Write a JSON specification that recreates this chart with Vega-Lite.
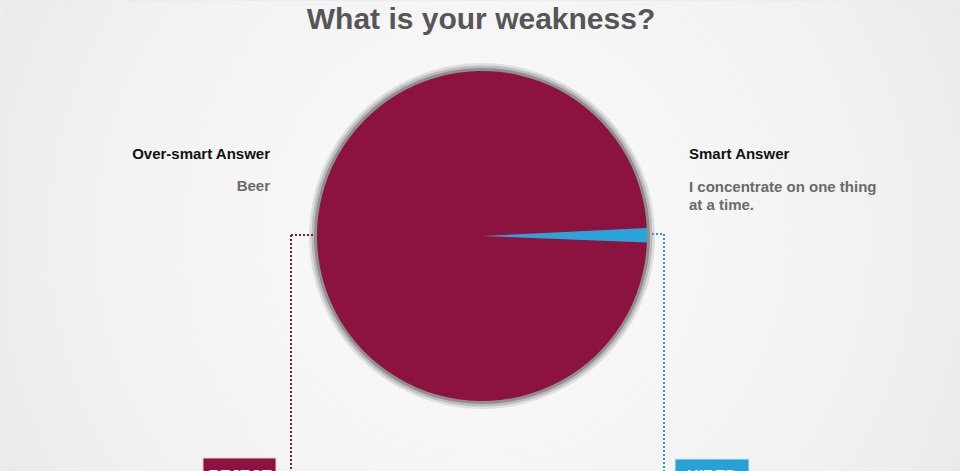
{
  "$schema": "https://vega.github.io/schema/vega-lite/v6.json",
  "width": 960,
  "height": 471,
  "autosize": {"type": "fit", "contains": "padding"},
  "padding": {"left": 4, "top": 1, "right": 0, "bottom": 0},
  "background": "#ececec",
  "config": {"view": {"stroke": null}, "font": "Liberation Sans"},
  "datasets": {
    "slices": [
      {"answer": "Smart Answer", "share": 1.4, "order": 1},
      {"answer": "Over-smart Answer", "share": 98.6, "order": 2}
    ],
    "answers": [
      {"answer": "Over-smart Answer", "reply": ["Beer"], "verdict": "REJECT"},
      {"answer": "Smart Answer", "reply": ["I concentrate on one thing", "at a time."], "verdict": "HIRED"}
    ],
    "one": [{"title": "What is your weakness?"}]
  },
  "layer": [
    {
      "data": {"name": "one"},
      "mark": {
        "type": "rect", "clip": true,
        "fill": {"gradient": "radial", "x1": 0.5, "y1": 0.5, "x2": 0.5, "y2": 0.5, "r1": 0, "r2": 0.7,
          "stops": [{"offset": 0, "color": "#fbfbfb"}, {"offset": 0.6, "color": "#f1f1f1"}, {"offset": 1, "color": "#e3e3e3"}]}
      },
      "encoding": {"x": {"value": 0}, "x2": {"value": "width"}, "y": {"value": 0}, "y2": {"value": "height"}}
    },
    {
      "data": {"name": "one"},
      "mark": {"type": "arc", "radius": 173, "theta": 0, "theta2": 6.2832, "fill": "#dedede"},
      "encoding": {}
    },
    {
      "data": {"name": "one"},
      "mark": {"type": "arc", "radius": 170.5, "theta": 0, "theta2": 6.2832, "fill": "#bcbcbc"},
      "encoding": {}
    },
    {
      "data": {"name": "one"},
      "mark": {"type": "arc", "radius": 168, "theta": 0, "theta2": 6.2832, "fill": "#8f8f8f"},
      "encoding": {}
    },
    {
      "data": {"name": "slices"},
      "mark": {"type": "arc", "radius": 165},
      "encoding": {
        "theta": {"field": "share", "type": "quantitative", "stack": true, "scale": {"range": [1.522, 7.805]}},
        "order": {"field": "order", "type": "quantitative"},
        "color": {"field": "answer", "type": "nominal", "legend": null,
          "scale": {"domain": ["Smart Answer", "Over-smart Answer"], "range": ["#29a4da", "#8c1340"]}}
      }
    },
    {
      "data": {"name": "answers"},
      "transform": [{"filter": "datum.verdict === 'REJECT'"}],
      "layer": [
        {"mark": {"type": "rule", "clip": true, "stroke": "#7c1838", "strokeWidth": 2, "strokeDash": [2, 2]},
         "encoding": {"x": {"value": 287}, "x2": {"value": 309}, "y": {"value": 234}, "y2": {"value": 234}}},
        {"mark": {"type": "rule", "clip": true, "stroke": "#7c1838", "strokeWidth": 2, "strokeDash": [2, 2]},
         "encoding": {"x": {"value": 287}, "x2": {"value": 287}, "y": {"value": 234}, "y2": {"value": 480}}},
        {"mark": {"type": "rect", "clip": true, "fill": "#8c1340", "stroke": "#e9cfd9", "strokeWidth": 1},
         "encoding": {"x": {"value": 199}, "x2": {"value": 272}, "y": {"value": 457}, "y2": {"value": 480}}},
        {"mark": {"type": "text", "clip": true, "align": "center", "fontSize": 16, "fontWeight": "bold", "fill": "#ffffff"},
         "encoding": {"x": {"value": 236}, "y": {"value": 476}, "text": {"field": "verdict"}}},
        {"mark": {"type": "text", "align": "right", "fontSize": 15, "fontWeight": "bold", "fill": "#111111"},
         "encoding": {"x": {"value": 266}, "y": {"value": 153}, "text": {"field": "answer"}}},
        {"mark": {"type": "text", "align": "right", "fontSize": 15, "fontWeight": "bold", "fill": "#6a6a6a", "lineHeight": 18},
         "encoding": {"x": {"value": 266}, "y": {"value": 185}, "text": {"field": "reply"}}}
      ]
    },
    {
      "data": {"name": "answers"},
      "transform": [{"filter": "datum.verdict === 'HIRED'"}],
      "layer": [
        {"mark": {"type": "rule", "clip": true, "stroke": "#2a9bc9", "strokeWidth": 2, "strokeDash": [2, 2]},
         "encoding": {"x": {"value": 648}, "x2": {"value": 660}, "y": {"value": 233}, "y2": {"value": 233}}},
        {"mark": {"type": "rule", "clip": true, "stroke": "#2a9bc9", "strokeWidth": 2, "strokeDash": [2, 2]},
         "encoding": {"x": {"value": 660}, "x2": {"value": 660}, "y": {"value": 233}, "y2": {"value": 480}}},
        {"mark": {"type": "rect", "clip": true, "fill": "#29a0d6", "stroke": "#d3ecf7", "strokeWidth": 1},
         "encoding": {"x": {"value": 671}, "x2": {"value": 745}, "y": {"value": 458}, "y2": {"value": 480}}},
        {"mark": {"type": "text", "clip": true, "align": "center", "fontSize": 16, "fontWeight": "bold", "fill": "#ffffff"},
         "encoding": {"x": {"value": 708}, "y": {"value": 476}, "text": {"field": "verdict"}}},
        {"mark": {"type": "text", "align": "left", "fontSize": 15, "fontWeight": "bold", "fill": "#111111"},
         "encoding": {"x": {"value": 685}, "y": {"value": 153}, "text": {"field": "answer"}}},
        {"mark": {"type": "text", "align": "left", "fontSize": 15, "fontWeight": "bold", "fill": "#6a6a6a", "lineHeight": 18},
         "encoding": {"x": {"value": 685}, "y": {"value": 186}, "text": {"field": "reply"}}}
      ]
    },
    {
      "data": {"name": "one"},
      "mark": {"type": "text", "align": "center", "fontSize": 30, "fontWeight": "bold", "fill": "#565656"},
      "encoding": {"x": {"value": 477}, "y": {"value": 19}, "text": {"field": "title"}}
    }
  ]
}
